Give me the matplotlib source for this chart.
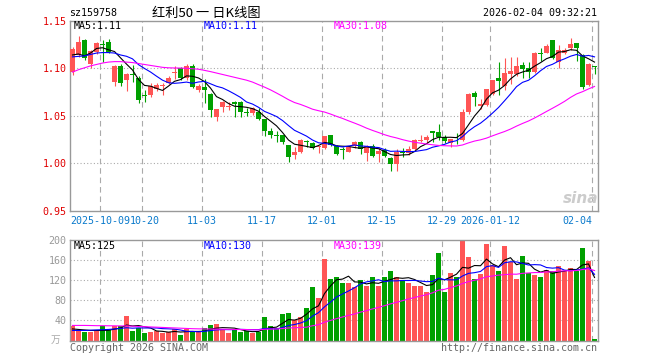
import matplotlib
matplotlib.use('Agg')
import matplotlib.pyplot as plt
import matplotlib.transforms as mtransforms
import numpy as np
import pandas as pd

# trading days 2025-09-24 .. 2026-02-04 (national day + new year holidays removed)
holidays = ['2025-10-01', '2025-10-02', '2025-10-03', '2025-10-06', '2025-10-07',
            '2025-10-08', '2026-01-01', '2026-01-02']
dates = pd.bdate_range('2025-09-24', '2026-02-04')
dates = dates[~dates.isin(pd.to_datetime(holidays))]

opens = [1.096, 1.114, 1.130, 1.105, 1.117, 1.125, 1.128, 1.086, 1.102, 1.088,
         1.094, 1.090, 1.072, 1.072, 1.078, 1.081, 1.084, 1.095, 1.100, 1.090,
         1.102, 1.077, 1.080, 1.073, 1.0485, 1.059, 1.0595, 1.065, 1.0645, 1.054,
         1.0525, 1.0545, 1.0467, 1.034, 1.029, 1.030, 1.0195, 1.009, 1.0125, 1.023,
         1.021, 1.0175, 1.016, 1.030, 1.018, 1.015, 1.0125, 1.0185, 1.023, 1.011,
         1.018, 1.010, 1.014, 1.006, 0.9995, 1.0115, 1.011, 1.015, 1.024, 1.025,
         1.034, 1.0335, 1.028, 1.021, 1.027, 1.0246, 1.0537, 1.0745, 1.060, 1.0614,
         1.073, 1.0894, 1.0817, 1.0936, 1.0936, 1.1034, 1.1006, 1.0957, 1.1158, 1.1164,
         1.1297, 1.107, 1.1157, 1.121, 1.1262, 1.114, 1.0824, 1.102]
highs = [1.122, 1.134, 1.131, 1.119, 1.128, 1.130, 1.131, 1.103, 1.104, 1.095,
         1.103, 1.092, 1.077, 1.084, 1.084, 1.085, 1.092, 1.102, 1.101, 1.104,
         1.104, 1.083, 1.089, 1.074, 1.057, 1.066, 1.065, 1.066, 1.0655, 1.058,
         1.059, 1.058, 1.047, 1.037, 1.0345, 1.030, 1.0195, 1.017, 1.0255, 1.025,
         1.022, 1.018, 1.029, 1.030, 1.019, 1.017, 1.018, 1.024, 1.024, 1.019,
         1.020, 1.017, 1.016, 1.0065, 1.015, 1.016, 1.018, 1.0253, 1.030, 1.030,
         1.034, 1.041, 1.030, 1.026, 1.0316, 1.057, 1.074, 1.076, 1.068, 1.078,
         1.0877, 1.107, 1.1105, 1.112, 1.112, 1.107, 1.107, 1.1175, 1.1217, 1.1252,
         1.130, 1.124, 1.121, 1.132, 1.127, 1.115, 1.1052, 1.102]
lows = [1.093, 1.112, 1.109, 1.100, 1.115, 1.107, 1.116, 1.081, 1.081, 1.076,
        1.086, 1.063, 1.065, 1.070, 1.076, 1.072, 1.083, 1.089, 1.088, 1.088,
        1.079, 1.075, 1.063, 1.049, 1.045, 1.054, 1.056, 1.049, 1.049, 1.050,
        1.051, 1.0456, 1.029, 1.0265, 1.023, 1.0205, 1.002, 1.005, 1.011, 1.017,
        1.015, 1.0106, 1.015, 1.018, 1.009, 1.005, 1.0125, 1.016, 1.010, 1.003,
        1.0071, 1.001, 1.007, 0.9925, 0.9925, 1.007, 1.009, 1.014, 1.022, 1.021,
        1.023, 1.025, 1.021, 1.017, 1.0205, 1.024, 1.0515, 1.0607, 1.057, 1.0607,
        1.072, 1.072, 1.0772, 1.083, 1.092, 1.0894, 1.0894, 1.0955, 1.1077, 1.1157,
        1.110, 1.100, 1.1147, 1.119, 1.1077, 1.078, 1.0817, 1.0936]
closes = [1.120, 1.128, 1.111, 1.118, 1.127, 1.124, 1.117, 1.102, 1.085, 1.094,
          1.093, 1.067, 1.071, 1.081, 1.0825, 1.082, 1.090, 1.096, 1.090, 1.102,
          1.080, 1.081, 1.077, 1.056, 1.0568, 1.065, 1.060, 1.0625, 1.054, 1.0535,
          1.058, 1.0467, 1.0345, 1.030, 1.0285, 1.023, 1.007, 1.0125, 1.0245, 1.0225,
          1.0166, 1.018, 1.0288, 1.019, 1.010, 1.0145, 1.017, 1.023, 1.015, 1.018,
          1.008, 1.0135, 1.008, 0.9995, 1.0125, 1.011, 1.015, 1.0245, 1.025, 1.028,
          1.0325, 1.0275, 1.024, 1.0253, 1.0262, 1.0544, 1.073, 1.070, 1.0625, 1.078,
          1.0877, 1.0866, 1.0947, 1.097, 1.1027, 1.0993, 1.0957, 1.1164, 1.1155, 1.1238,
          1.1105, 1.119, 1.119, 1.1252, 1.121, 1.0807, 1.1042, 1.1015]

ma5 = [1.114, 1.115, 1.113, 1.116, 1.1208, 1.1216, 1.1194, 1.1176, 1.111, 1.1044,
       1.0982, 1.0882, 1.082, 1.0812, 1.0789, 1.0767, 1.0813, 1.0863, 1.0881, 1.092,
       1.0916, 1.0898, 1.086, 1.0792, 1.0702, 1.0672, 1.063, 1.0601, 1.0597, 1.059,
       1.0576, 1.0549, 1.0493, 1.0445, 1.0395, 1.0325, 1.0246, 1.0202, 1.0191, 1.0179,
       1.0166, 1.0188, 1.0221, 1.021, 1.0185, 1.0181, 1.0179, 1.0167, 1.0159, 1.0175,
       1.0162, 1.0155, 1.0125, 1.0094, 1.0083, 1.0089, 1.0092, 1.0125, 1.0176, 1.0207,
       1.025, 1.0275, 1.0274, 1.0275, 1.0271, 1.0315, 1.0406, 1.0498, 1.0572, 1.0676,
       1.0742, 1.077, 1.0819, 1.0888, 1.0937, 1.0961, 1.0979, 1.1022, 1.1059, 1.1101,
       1.1124, 1.117, 1.1176, 1.1195, 1.1189, 1.113, 1.11, 1.1065]
ma10 = [1.112, 1.1125, 1.113, 1.1145, 1.116, 1.1165, 1.1165, 1.116, 1.114, 1.1126,
        1.1099, 1.1038, 1.0998, 1.0961, 1.0917, 1.0875, 1.0848, 1.0842, 1.0847, 1.0855,
        1.0842, 1.0856, 1.0862, 1.0837, 1.0811, 1.0794, 1.0764, 1.073, 1.0694, 1.0646,
        1.0624, 1.059, 1.0547, 1.0521, 1.0493, 1.0451, 1.0398, 1.0348, 1.0318, 1.0287,
        1.0246, 1.0217, 1.0211, 1.02, 1.0182, 1.0173, 1.0183, 1.0194, 1.0184, 1.018,
        1.0171, 1.0167, 1.0146, 1.0127, 1.0129, 1.0126, 1.0124, 1.0125, 1.0135, 1.0145,
        1.017, 1.0184, 1.02, 1.0225, 1.0239, 1.0282, 1.034, 1.0386, 1.0423, 1.0473,
        1.0529, 1.0588, 1.0658, 1.073, 1.0807, 1.0852, 1.0874, 1.0921, 1.0974, 1.1019,
        1.1042, 1.1075, 1.1099, 1.1127, 1.1145, 1.1127, 1.1135, 1.112]
ma30 = [1.096, 1.0985, 1.1005, 1.1025, 1.104, 1.1055, 1.1065, 1.107, 1.107, 1.1065,
        1.106, 1.105, 1.104, 1.103, 1.102, 1.101, 1.1005, 1.1003, 1.1002, 1.1,
        1.0995, 1.099, 1.0978, 1.0965, 1.095, 1.0935, 1.092, 1.0905, 1.089, 1.0875,
        1.0855, 1.0828, 1.0802, 1.0773, 1.074, 1.0706, 1.067, 1.064, 1.062, 1.0596,
        1.057, 1.0554, 1.054, 1.0519, 1.0495, 1.0473, 1.0448, 1.0424, 1.0399, 1.0371,
        1.0347, 1.0325, 1.0302, 1.0283, 1.0268, 1.025, 1.0235, 1.0222, 1.0213, 1.0204,
        1.0196, 1.0189, 1.0186, 1.0184, 1.0183, 1.0194, 1.0216, 1.0235, 1.0248, 1.0266,
        1.029, 1.0313, 1.0335, 1.0361, 1.0392, 1.042, 1.0446, 1.0477, 1.0511, 1.0546,
        1.058, 1.0615, 1.0652, 1.0694, 1.073, 1.0754, 1.0783, 1.0809]

# volume, 万
volumes = [28, 19, 17, 17, 19, 28, 21, 28, 28, 49,
           19, 25, 15, 17, 19, 15, 17, 22, 11, 23,
           17, 17, 25, 31, 33, 22, 15, 22, 17, 19,
           15, 17, 47, 29, 25, 53, 55, 41, 47, 65,
           107, 85, 163, 123, 126, 114, 114, 106, 121, 108,
           126, 108, 126, 138, 126, 121, 114, 108, 108, 96,
           130, 174, 96, 134, 126, 198, 166, 122, 132, 192,
           150, 138, 188, 156, 122, 168, 134, 130, 126, 140,
           138, 148, 138, 144, 138, 184, 158, 3]
vma5 = [23, 22, 21, 20, 20, 20, 20.4, 22.6, 24.8, 30.8,
        29, 29.8, 27.2, 25, 19, 18.2, 16.6, 18, 16.8, 17.6,
        18, 18, 18.6, 22.6, 24.6, 25.6, 25.2, 24.6, 21.8, 19,
        17.6, 18, 23, 25.4, 26.6, 34.2, 41.8, 40.6, 44.2, 52.2,
        63, 69, 93.4, 108.6, 120.8, 122.2, 128, 116.6, 116.2, 112.6,
        115, 113.8, 117.8, 121.2, 124.8, 123.8, 125, 121.4, 115.4, 109.4,
        111.2, 123.2, 120.8, 126, 132, 145.6, 144, 149.2, 148.8, 162,
        152.4, 146.8, 160, 164.8, 150.8, 154.4, 153.6, 142, 136, 139.6,
        133.6, 136.4, 138, 141.6, 141.2, 150.4, 152.4, 125.4]
vma10 = [20, 20, 20, 20.5, 21, 21.5, 22, 23, 24, 25.4,
         24.5, 25.1, 24.9, 24.9, 24.9, 23.6, 23.2, 22.6, 20.9, 18.3,
         18.1, 17.3, 18.3, 19.7, 21.1, 21.8, 21.6, 21.6, 22.2, 21.8,
         21.6, 21.6, 23.8, 23.6, 22.8, 25.9, 29.9, 31.8, 34.8, 39.4,
         48.6, 55.4, 67, 76.4, 86.5, 92.6, 98.5, 105, 112.4, 116.7,
         118.6, 120.9, 117.2, 118.7, 118.7, 119.4, 119.4, 119.6, 118.3, 117.1,
         117.5, 124.1, 121.1, 120.7, 120.7, 128.4, 133.6, 135, 137.4, 147,
         149, 145.4, 154.6, 156.8, 156.4, 153.4, 150.2, 151, 150.4, 145.2,
         144, 145, 140, 138.8, 140.4, 142, 144.4, 131.7]
vma30 = [30, 30, 30, 29.8, 29.5, 29.5, 29.3, 29.2, 29, 29,
         28.5, 28, 27.5, 27, 26.5, 26, 25.5, 25, 24.5, 24,
         23.5, 23.2, 23, 22.8, 22.6, 22.4, 22.2, 22, 21.9, 21.8,
         21.4, 21.3, 22.3, 22.7, 22.9, 23.8, 24.9, 25.3, 26, 26.5,
         29.4, 31.4, 36.4, 39.9, 43.5, 46.8, 50, 52.8, 56.5, 59.3,
         62.9, 66, 69.3, 72.9, 76, 79.3, 82.6, 85.5, 88.5, 91.1,
         94.9, 100.1, 101.8, 105.3, 108.6, 113.5, 117.2, 119.9, 122.7, 126.9,
         128.4, 130.1, 131, 132.1, 131.9, 133.7, 134.4, 135.2, 135.4, 136.4,
         136.8, 138.2, 138.6, 138.8, 139.2, 141.3, 142.7, 139.2]

tick_dates = ['2025-10-09', '2025-10-20', '2025-11-03', '2025-11-17', '2025-12-01',
              '2025-12-15', '2025-12-29', '2026-01-12', '2026-02-04']
tick_labels = ['2025-10-09', '10-20', '11-03', '11-17', '12-01',
               '12-15', '12-29', '2026-01-12', '02-04']
price_ticks = [0.95, 1.00, 1.05, 1.10, 1.15]
vol_ticks = [40, 80, 120, 160, 200]

RED = '#FF5555'
GREEN = '#00A000'
GRID = '#AAAAAA'
MONO = 'DejaVu Sans Mono'
CJK = ['Noto Sans CJK SC', 'DejaVu Sans']
FS = 7.2

W, H = 660, 360
def fx(px):
    return px / W
def fy(py):
    return 1 - py / H

opens = np.array(opens); closes = np.array(closes)
x = np.arange(len(dates))
colors = np.where(closes >= opens, RED, GREEN)
tick_pos = np.array([dates.get_loc(pd.Timestamp(d)) for d in tick_dates]) - 0.4

fig = plt.figure(figsize=(6.6, 3.6), dpi=100)
ax = fig.add_axes([fx(69.5), fy(211), 528.5 / W, 190.3 / H])
axv = fig.add_axes([fx(69.5), fy(340.5), 528.5 / W, 100.5 / H])

for a in (ax, axv):
    for s in a.spines.values():
        s.set_color('#999999')
        s.set_linewidth(1)
    for p in tick_pos:
        a.axvline(p, color=GRID, lw=0.8, ls=(0, (5, 3.5)), zorder=0)
    a.set_xlim(-0.5, 87.58)
    a.tick_params(length=0)
    a.set_xticks([])

# price panel
ax.vlines(x, lows, highs, colors=colors, lw=0.8, zorder=2)
body_h = np.maximum(np.abs(closes - opens), 0.0009)
ax.bar(x, body_h, width=0.8, bottom=np.minimum(opens, closes), color=colors,
       linewidth=0, zorder=3)
ax.plot(x, ma5, color='black', lw=0.8, zorder=4)
ax.plot(x, ma10, color='#0000FF', lw=0.8, zorder=4)
ax.plot(x, ma30, color='#FF00FF', lw=0.8, zorder=4)
for v in price_ticks[1:-1]:
    ax.axhline(v, color=GRID, lw=0.8, ls=(0, (1, 2)), zorder=0)
ax.set_ylim(0.95, 1.15)
ax.set_yticks(price_ticks)
ax.set_yticklabels(['%.2f' % v for v in price_ticks], color='#E00000',
                   family=MONO, fontsize=FS)
ax.tick_params(axis='y', pad=2)

# date labels under the price panel; the last one is right-aligned to fit,
# the second is pushed right so it just touches the first
blend = mtransforms.blended_transform_factory(ax.transData, ax.transAxes)
for k, (p, lab) in enumerate(zip(tick_pos, tick_labels)):
    ha = 'right' if k == len(tick_labels) - 1 else 'center'
    tr = blend
    if k == 1:
        tr = blend + mtransforms.ScaledTranslation(2.5 / 100, 0, fig.dpi_scale_trans)
    ax.text(p, -10 / 190.3, lab, transform=tr, ha=ha, va='center',
            family=MONO, fontsize=FS, color='#0A7ACC', clip_on=False)

# volume panel
axv.bar(x, volumes, width=0.8, color=colors, linewidth=0, zorder=2)
axv.plot(x, vma5, color='black', lw=0.8, zorder=4)
axv.plot(x, vma10, color='#0000FF', lw=0.8, zorder=4)
axv.plot(x, vma30, color='#FF00FF', lw=0.8, zorder=4)
for v in vol_ticks[:-1]:
    axv.axhline(v, color=GRID, lw=0.8, ls=(0, (1, 2)), zorder=0)
axv.set_ylim(0, 200)
axv.set_yticks(vol_ticks)
axv.set_yticklabels([str(v) for v in vol_ticks], color='#999999',
                    family=MONO, fontsize=FS)
axv.tick_params(axis='y', pad=2)

# header and captions
fig.text(fx(69.5), fy(13), 'sz159758', ha='left', va='center', family=MONO, fontsize=FS)
fig.text(fx(206), fy(13), '红利50 一 日K线图', ha='center', va='center',
         family=CJK, fontsize=9.5)
fig.text(fx(597), fy(13), '2026-02-04 09:32:21', ha='right', va='center',
         family=MONO, fontsize=FS)

fig.text(fx(74), fy(26), 'MA5:1.11', ha='left', va='center', family=MONO,
         fontsize=FS, color='black')
fig.text(fx(204), fy(26), 'MA10:1.11', ha='left', va='center', family=MONO,
         fontsize=FS, color='#0000FF')
fig.text(fx(334), fy(26), 'MA30:1.08', ha='left', va='center', family=MONO,
         fontsize=FS, color='#FF00FF')
fig.text(fx(74), fy(246), 'MA5:125', ha='left', va='center', family=MONO,
         fontsize=FS, color='black')
fig.text(fx(204), fy(246), 'MA10:130', ha='left', va='center', family=MONO,
         fontsize=FS, color='#0000FF')
fig.text(fx(334), fy(246), 'MA30:139', ha='left', va='center', family=MONO,
         fontsize=FS, color='#FF00FF')

fig.text(fx(56), fy(340), '万', ha='center', va='center', family=CJK,
         fontsize=7, color='#AAAAAA')
fig.text(fx(69.5), fy(348), 'Copyright 2026 SINA.COM', ha='left', va='center',
         family=MONO, fontsize=FS, color='#666666')
fig.text(fx(597), fy(348), 'http://finance.sina.com.cn', ha='right', va='center',
         family=MONO, fontsize=FS, color='#666666')
fig.text(fx(581), fy(198), 'sina', ha='center', va='center', fontsize=11,
         weight='bold', style='italic', color='#CCCCCC')

fig.savefig('out.png', dpi=100)
